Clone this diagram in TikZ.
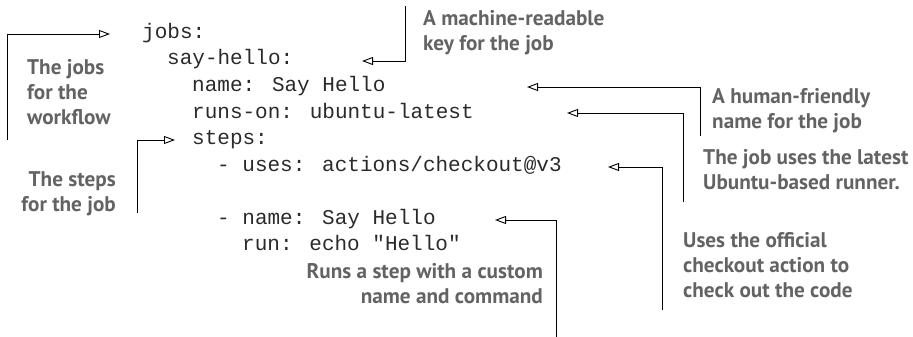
\documentclass[tikz,border=0pt]{standalone}
\usepackage{fontspec}
\usepackage{xcolor}
\usetikzlibrary{arrows.meta}
\newfontfamily\codefont{Liberation Mono}
\newfontfamily\notefont{PT Sans}
\definecolor{NoteGray}{HTML}{636363}
\definecolor{CodeInk}{HTML}{2A2A2A}

\begin{document}
\begin{tikzpicture}[x=1pt, y=-1pt,
    codeline/.style={anchor=base west, inner sep=0pt, text=CodeInk,
                     font=\codefont\fontsize{21}{26.5}\selectfont},
    notetext/.style={inner sep=0pt, text=NoteGray,
                     font=\notefont\bfseries\fontsize{21.2}{25}\selectfont},
    callout/.style={-{Triangle[open, length=11pt, width=8pt]}, line width=0.9pt}]
    \useasboundingbox (0,0) rectangle (913,337);

    % Workflow code
    \node[codeline] (l1) at (142,38.5) {jobs:};
    \node[codeline] (l2) at (167,65) {say-hello:};
    \node[codeline] (l3) at (192,91.5) {name: Say Hello};
    \node[codeline] (l4) at (192,118) {runs-on: ubuntu-latest};
    \node[codeline] (l5) at (192,144.5) {steps:};
    \node[codeline] (l6) at (217,171) {- uses: actions/checkout@v3};
    \node[codeline] (l7) at (217,224) {- name: Say Hello};
    \node[codeline] (l8) at (242,250.5) {run: echo "Hello"};

    % Notes
    \node[notetext, anchor=west, align=left] (jobsnote) at (27,92)
        {The jobs\\for the\\workflow};
    \node[notetext, anchor=east, align=right] (stepsnote) at (116,194)
        {The steps\\for the job};
    \node[notetext, anchor=west, align=left] (keynote) at (423,32.5)
        {A machine-readable\\key for the job};
    \node[notetext, anchor=west, align=left] (namenote) at (712,110.5)
        {A human-friendly\\name for the job};
    \node[notetext, anchor=west, align=left] (runnernote) at (703,169.5)
        {The job uses the latest\\Ubuntu-based runner.};
    \node[notetext, anchor=west, align=left] (checkoutnote) at (683,265)
        {Uses the official\\checkout action to\\check out the code};
    \node[notetext, anchor=east, align=right] (stepnote) at (543,284)
        {Runs a step with a custom\\name and command};

    % Callout ends
    \coordinate (jobsfoot) at (7,140);
    \coordinate (jobstip) at (110,34);
    \coordinate (stepsfoot) at (137,213);
    \coordinate (stepstip) at (175,140);
    \coordinate (keyfoot) at (405,6);
    \coordinate (keytip) at (362,61);
    \coordinate (namefoot) at (700,136);
    \coordinate (nametip) at (527,87);
    \coordinate (runnerfoot) at (683,202);
    \coordinate (runnertip) at (567,113);
    \coordinate (checkoutfoot) at (662,310);
    \coordinate (checkouttip) at (608,167);
    \coordinate (stepfoot) at (556,337);
    \coordinate (steptip) at (495,220);

    % Callouts
    \draw[callout] (jobsfoot) |- (jobstip);
    \draw[callout] (stepsfoot) |- (stepstip);
    \draw[callout] (keyfoot) |- (keytip);
    \draw[callout] (namefoot) |- (nametip);
    \draw[callout] (runnerfoot) |- (runnertip);
    \draw[callout] (checkoutfoot) |- (checkouttip);
    \draw[callout] (stepfoot) |- (steptip);
\end{tikzpicture}
\end{document}
